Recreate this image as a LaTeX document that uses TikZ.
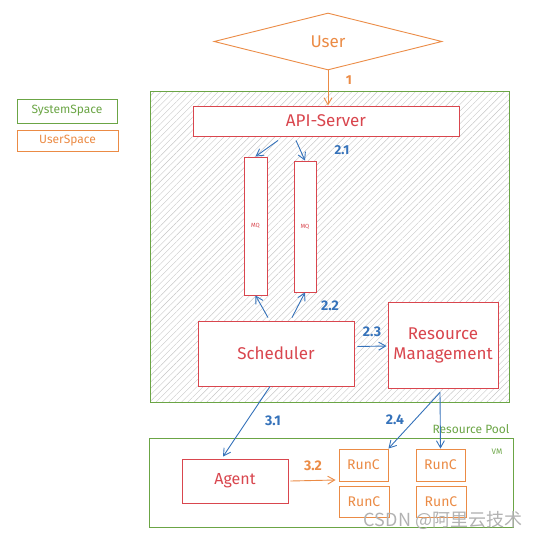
\documentclass[tikz,border=0pt]{standalone}
\usepackage{fontspec}
\setmainfont{Fira Sans}
\newfontfamily\cjk{Noto Sans CJK SC}
\usetikzlibrary{arrows.meta,shapes.geometric,patterns.meta}
\definecolor{boxred}{HTML}{D9464E}
\definecolor{spacegreen}{HTML}{6BA545}
\definecolor{userorange}{HTML}{EB8B45}
\definecolor{flowblue}{HTML}{3572BA}

\begin{document}
\begin{tikzpicture}[x=1pt,y=-1pt,
  box/.style={draw=boxred,line width=0.9pt,fill=white,text=boxred,inner sep=0pt,font=\fontsize{17}{20}\selectfont},
  runbox/.style={draw=userorange,line width=0.9pt,fill=white,text=userorange,inner sep=0pt,font=\fontsize{14}{16}\selectfont},
  space/.style={draw=spacegreen,line width=0.9pt,inner sep=0pt},
  flow/.style={draw=flowblue,line width=0.9pt,-{Straight Barb[length=7pt,width=8pt]}},
  userflow/.style={flow,draw=userorange},
  num/.style={text=flowblue,font=\bfseries\fontsize{14}{16}\selectfont}]
\useasboundingbox (0,0) rectangle (544,539);

% legend
\node[space,minimum width=100pt,minimum height=24pt,text=spacegreen,font=\fontsize{12}{14}\selectfont] (sysleg) at (67,111) {SystemSpace};
\node[draw=userorange,line width=0.9pt,inner sep=0pt,minimum width=101pt,minimum height=21pt,text=userorange,font=\fontsize{12}{14}\selectfont] (userleg) at (67.5,140.5) {UserSpace};

% system space
\node[space,minimum width=359pt,minimum height=311pt,pattern={Lines[angle=45,distance=4.5pt,line width=0.4pt]},pattern color=gray!45] (sys) at (329.5,246.5) {};
\node[diamond,draw=userorange,line width=0.9pt,inner sep=0pt,minimum width=228pt,minimum height=57pt,text=userorange,font=\fontsize{17}{20}\selectfont] (user) at (328,41.5) {User};
\node[box,minimum width=266pt,minimum height=30pt] (api) at (326,121) {API-Server};
\node[box,minimum width=23pt,minimum height=138pt,font=\fontsize{6}{7}\selectfont] (mq1) at (255.5,226) {MQ};
\node[box,minimum width=22pt,minimum height=131pt,font=\fontsize{6}{7}\selectfont] (mq2) at (305,226.5) {MQ};
\node[box,minimum width=156pt,minimum height=65pt] (sched) at (276,353.5) {Scheduler};
\node[box,minimum width=110pt,minimum height=86pt,align=center] (rm) at (443,345) {Resource\\Management};

% resource pool
\node[space,minimum width=364pt,minimum height=89pt] (vm) at (331,482.5) {};
\node[text=spacegreen,font=\fontsize{12}{14}\selectfont] (pool) at (471,429) {Resource Pool};
\node[text=spacegreen,font=\fontsize{8}{10}\selectfont] (vmlabel) at (497,452) {VM};
\node[box,minimum width=106pt,minimum height=44pt,font=\fontsize{16}{18}\selectfont] (agent) at (235,481) {Agent};
\node[runbox,minimum width=49pt,minimum height=32pt] (runc1) at (363.5,465) {RunC};
\node[runbox,minimum width=50pt,minimum height=31pt] (runc2) at (364,501.5) {RunC};
\node[runbox,minimum width=49pt,minimum height=32pt] (runc3) at (440.5,465) {RunC};
\node[runbox,minimum width=50pt,minimum height=31pt] (runc4) at (441,501.5) {RunC};

\draw[userflow] (user.south) -- (user.south |- api.north);
\draw[flow] ([shift={(-48,4)}]api.south) -- (mq1.north);
\draw[flow] ([shift={(-30,4)}]api.south) -- (mq2.north);
\draw[flow] ([shift={(-8,-3)}]sched.north) -- (mq1.south);
\draw[flow] ([shift={(16,-3)}]sched.north) -- (mq2.south);
\draw[flow] ([shift={(3,-7)}]sched.east) -- ([shift={(-1,1)}]rm.west);
\draw[flow] ([xshift=-6]sched.south) -- ([shift={(-12,-2)}]agent.north);
\draw[flow] ([shift={(-3,4)}]rm.south) -- (runc1.north east);
\draw[flow] ([shift={(-3,4)}]rm.south) -- (runc3.north);
\draw[userflow] ([xshift=2]agent.east) -- ([shift={(-3,15)}]runc1.west);

\node[text=userorange,font=\bfseries\fontsize{13}{15}\selectfont] (l1) at (349,80) {1};
\node[num,font=\bfseries\fontsize{13}{15}\selectfont] (l21) at (342,150) {2.1};
\node[num] (l22) at (330,306) {2.2};
\node[num] (l23) at (372,332) {2.3};
\node[num] (l31) at (273,421) {3.1};
\node[num] (l24) at (395,420) {2.4};
\node[num,text=userorange] (l32) at (313,466) {3.2};

% watermark
\node[text=gray!60,font=\cjk\fontsize{18}{20}\selectfont] (mark) at (443,520) {CSDN @阿里云技术};
\end{tikzpicture}
\end{document}
